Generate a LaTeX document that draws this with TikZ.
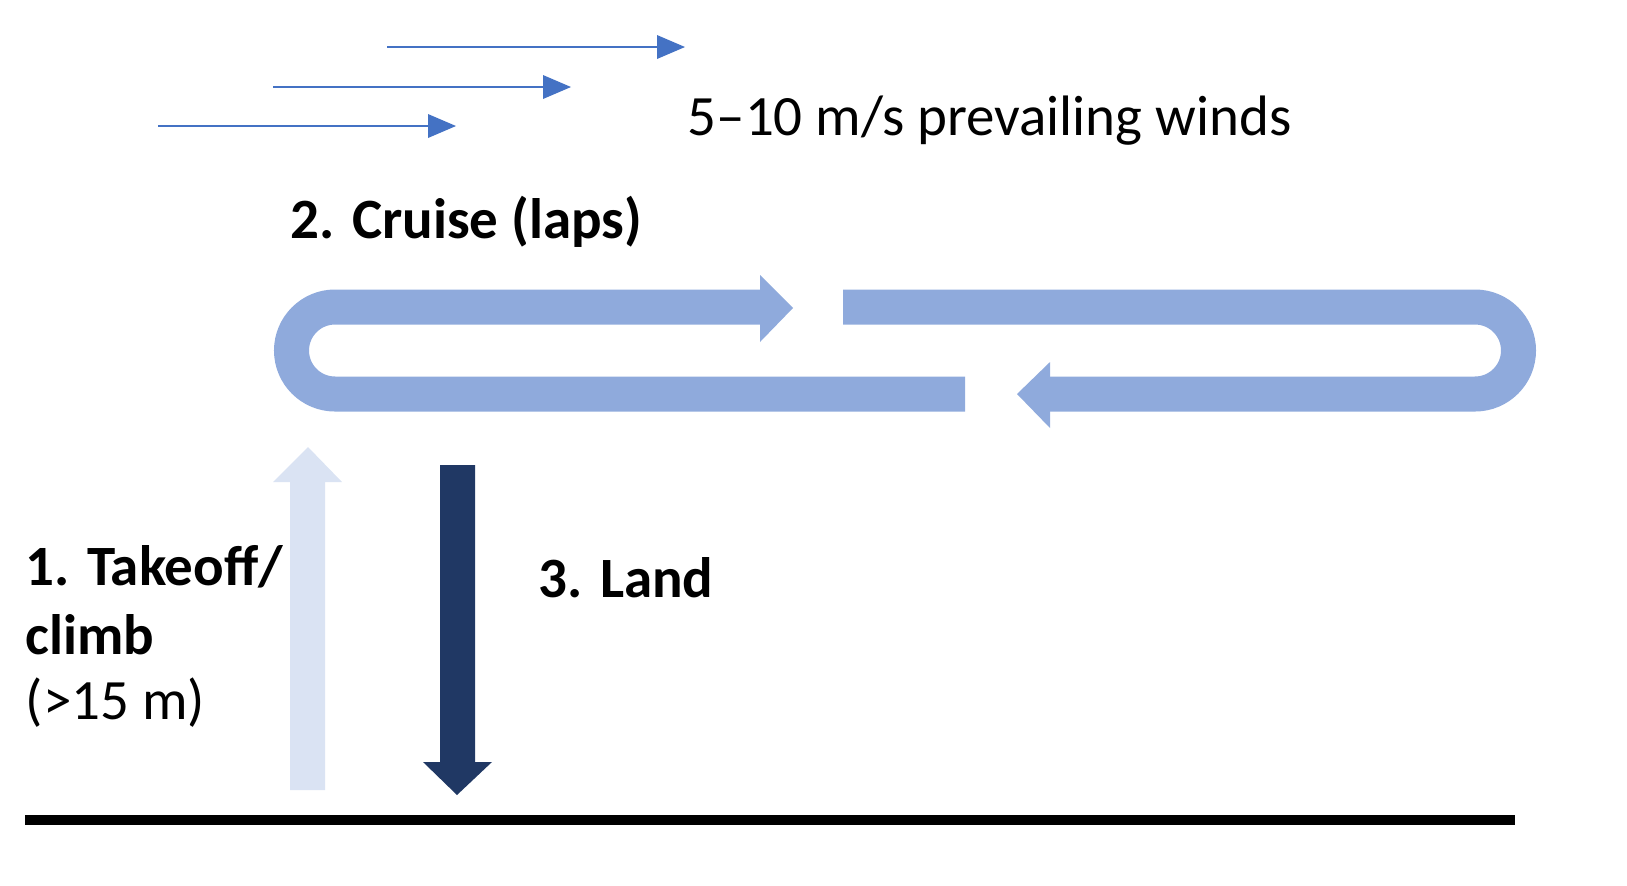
\documentclass[tikz,border=0pt]{standalone}
\usepackage{fontspec}
\setmainfont{Carlito}
\usepackage{tikz}
\definecolor{windblue}{RGB}{68,114,196}
\definecolor{lapblue}{RGB}{143,170,220}
\definecolor{climbblue}{RGB}{218,227,243}
\definecolor{landblue}{RGB}{32,56,100}
\tikzset{every picture/.style={line width=0.75pt}}
\tikzset{
  wind/.style={draw=windblue, line width=1.2pt},
  windtip/.style={fill=windblue, draw=none},
  lap/.style={draw=lapblue, line width=17.5pt},
  lbl/.style={anchor=west, inner sep=0pt, font=\fontsize{28.5}{34}\selectfont},
  blbl/.style={lbl, font=\bfseries\fontsize{28.5}{34}\selectfont},
}
\begin{document}
\begin{tikzpicture}[x=0.5pt,y=0.5pt,yscale=-1]
\useasboundingbox (0,0) rectangle (1627,885);

%Wind arrows
\foreach \x/\y in {387/47, 273/87, 158/126}{
  \draw [wind] (\x,\y) -- (\x+275,\y) ;
  \fill [windtip] (\x+270,\y-12) -- (\x+298,\y) -- (\x+270,\y+12) -- cycle ;
}
\node [lbl] (winds) at (687,121) {5–10 m/s prevailing winds};

%Cruise laps
\node [blbl] (cruise) at (290,222) {2. Cruise (laps)};
\draw [lap] (965,394) -- (335,394) arc (90:270:43.5) -- (762,307) ;
\fill [lapblue] (760,275) -- (793,308) -- (760,342) -- cycle ;
\draw [lap] (843,307) -- (1475,307) arc (-90:90:43.5) -- (1048,394) ;
\fill [lapblue] (1050,362) -- (1017,394) -- (1050,428) -- cycle ;

%Takeoff arrow
\fill [climbblue] (290,790) -- (290,482) -- (273,482) -- (308,447) -- (342,482) -- (325,482) -- (325,790) -- cycle ;
\node [blbl] (takeoff) at (25,567) {1. Takeoff/};
\node [blbl] (climb) at (25,635) {climb};
\node [lbl] (height) at (25,703) {(>15 m)};

%Land arrow
\fill [landblue] (440,465) -- (475,465) -- (475,762) -- (492,762) -- (457,795) -- (423,762) -- (440,762) -- cycle ;
\node [blbl] (land) at (538,578) {3. Land};

%Ground
\draw [line width=5pt] (25,820) -- (1515,820) ;
\end{tikzpicture}
\end{document}
